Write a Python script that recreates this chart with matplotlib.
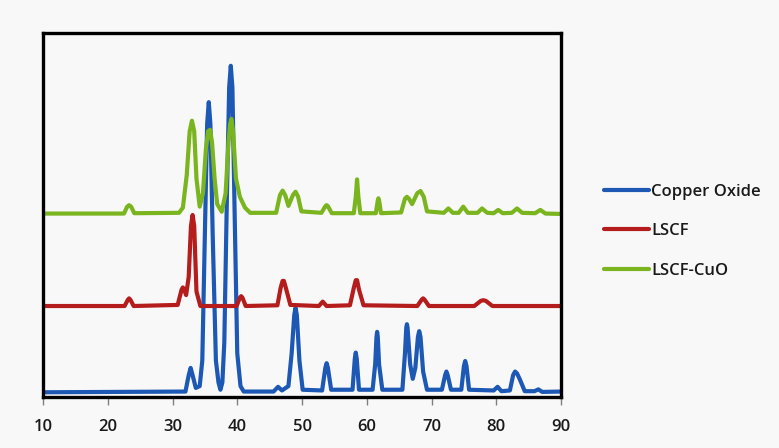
import matplotlib.pyplot as plt

# 2-theta / intensity vertices (arbitrary units, 0-100)
cuo_x = [10, 32.0, 32.5, 32.8, 33.1, 33.6, 34.2, 34.6, 35.0, 35.35, 35.6, 35.85, 36.2, 36.7,
         37.1, 37.4, 37.7, 38.0, 38.4, 38.75, 39.0, 39.25, 39.6, 40.0, 40.5, 41,
         45.6, 46.3, 46.9, 47.9, 48.4, 48.8, 49.0, 49.2, 49.6, 50.1,
         53.1, 53.6, 53.8, 54.0, 54.5, 57.8, 58.15, 58.3, 58.45, 58.8,
         60.9, 61.3, 61.5, 61.6, 61.7, 61.9, 62.4, 65.5, 65.9, 66.1, 66.2, 66.3, 66.7, 67.1,
         67.5, 67.9, 68.1, 68.3, 68.7, 69.3,
         71.6, 72.1, 72.3, 72.5, 73.0, 74.6, 75.0, 75.2, 75.4, 75.8, 79.6, 80.2, 80.8,
         82.1, 82.6, 82.9, 83.2, 83.6, 84.4, 85.9, 86.5, 87.1, 90]
cuo_y = [1.3, 1.5, 6, 8, 6, 2.5, 3, 10, 45, 75, 81, 75, 45, 10,
         4, 2, 4, 15, 55, 85, 91, 85, 50, 12, 3, 1.5,
         1.5, 2.8, 1.8, 3, 12, 22.5, 24.5, 22.5, 10, 2,
         1.8, 8, 9.3, 8, 2, 2, 10.5, 12.2, 10.5, 2,
         2, 9, 16.5, 17.9, 16.5, 9, 2, 2, 12, 19, 20, 19, 9, 5,
         8, 16.5, 18.1, 16.5, 7, 2,
         2, 6, 7, 6, 2, 2, 8.5, 9.9, 8.5, 2, 1.8, 2.8, 1.6,
         1.8, 6, 7, 6.5, 5, 1.6, 1.6, 2.1, 1.4, 1.5]

lscf_x = [10, 22.6, 23.1, 23.3, 23.5, 24.0, 30.8, 31.4, 31.6, 31.8, 32.1, 32.5, 32.85, 33.1,
          33.35, 33.7, 34.3, 39.9, 40.4, 40.6, 40.8, 41.3,
          46.2, 46.7, 47.0, 47.2, 47.5, 48.2, 52.6, 53.2, 53.8, 57.4, 58.0, 58.3, 58.5, 58.8, 59.5,
          67.8, 68.5, 68.7, 68.9, 69.6, 76.6, 77.6, 78.0, 78.4, 79.4, 90]
lscf_y = [25, 25, 26.7, 27.1, 26.7, 25, 25.3, 29.5, 30.1, 29.5, 28, 33, 47, 50,
          47, 29, 25, 25, 27.3, 27.7, 27.3, 25,
          25.2, 30, 31.9, 31.9, 30, 25.3, 25, 26.2, 25, 25.2, 30, 32.1, 32.1, 29.5, 25.2,
          25, 26.8, 27.1, 26.8, 25, 25, 26.4, 26.6, 26.4, 25, 25]

mix_x = [10, 22.5, 23.0, 23.3, 23.6, 24.1, 31.0, 31.6, 32.2, 32.65, 33.0, 33.35, 33.7, 34.2,
         34.7, 35.15, 35.5, 35.8, 36.1, 36.5, 36.9, 37.6,
         38.2, 38.65, 38.9, 39.1, 39.35, 39.8, 40.4, 41.2, 42,
         46.0, 46.6, 47.0, 47.4, 47.9, 48.6, 49.0, 49.4, 49.9,
         53.0, 53.6, 53.8, 54.0, 54.6, 58.0, 58.3, 58.5, 58.7, 59.0, 61.4, 61.7, 61.8, 61.9, 62.2,
         65.3, 65.9, 66.2, 66.5, 67.0, 67.8, 68.3, 68.8, 69.3,
         71.9, 72.6, 73.3, 74.2, 74.9, 75.6, 77.1, 77.8, 78.6, 79.6, 80.3, 81,
         82.4, 83.2, 84, 86.0, 86.8, 87.6, 90]
mix_y = [50.4, 50.4, 52.3, 52.7, 52.3, 50.5, 50.6, 52, 61, 73, 75.9, 73, 60, 52.3,
         56, 68, 73, 73.4, 70, 60, 53, 50.9,
         56, 70, 75, 76.4, 73, 60, 55, 52, 50.6,
         50.6, 55.5, 56.7, 55.5, 52.5, 55.5, 56.4, 55, 51,
         50.6, 52.4, 52.7, 52.4, 50.5, 50.5, 55, 59.8, 55, 50.5, 50.5, 54, 54.6, 54, 50.5,
         50.7, 54.5, 55, 54.5, 53, 56, 56.6, 55, 51,
         50.6, 51.8, 50.6, 50.6, 52.3, 50.6, 50.6, 51.8, 50.6, 50.5, 51.4, 50.5,
         50.6, 51.8, 50.6, 50.5, 51.4, 50.4, 50.3]

xticks = [10, 20, 30, 40, 50, 60, 70, 80, 90]

bg = '#f8f8f8'
fig = plt.figure(figsize=(7.79, 4.48), dpi=100, facecolor=bg)
ax = fig.add_axes([0.0552, 0.1138, 0.665, 0.8125], facecolor=bg)

kw = dict(lw=3.0, solid_joinstyle='round', solid_capstyle='round')
ax.plot(cuo_x, cuo_y, color='#1c58b4', label='Copper Oxide', **kw)
ax.plot(lscf_x, lscf_y, color='#b51d1d', label='LSCF', **kw)
ax.plot(mix_x, mix_y, color='#7ab51f', label='LSCF-CuO', **kw)

ax.set_xlim(10, 90)
ax.set_ylim(0, 100)
ax.set_xticks(xticks)
ax.set_yticks([])
ax.tick_params(axis='x', direction='out', length=6, width=1, color='#808080',
               labelsize=12, pad=10, labelcolor='#1a1a1a')
for lbl in ax.get_xticklabels():
    lbl.set_family(['Open Sans', 'DejaVu Sans'])
    lbl.set_weight('semibold')
for s in ax.spines.values():
    s.set_linewidth(2.4)
    s.set_color('black')

fig.legend(loc='center left', bbox_to_anchor=(0.765, 0.484), frameon=False,
           prop={'family': ['Open Sans', 'DejaVu Sans'], 'size': 12, 'weight': 'semibold'},
           labelcolor='#1a1a1a',
           handlelength=2.7, handletextpad=0.1, labelspacing=1.4, borderpad=0)

fig.savefig('out.png', dpi=100, facecolor=bg)
